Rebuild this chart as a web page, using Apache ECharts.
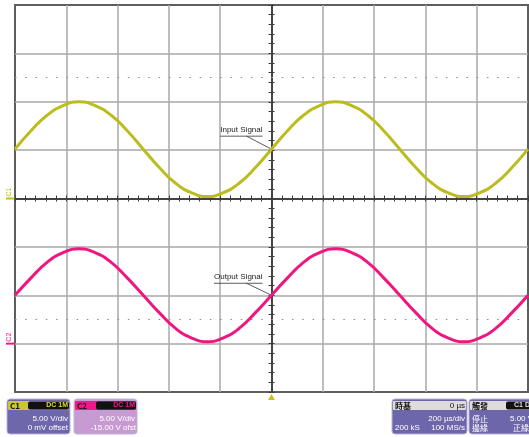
<!DOCTYPE html>
<html>
<head>
<meta charset="utf-8">
<style>
  html, body { margin: 0; padding: 0; background: #fff; }
  #chart { width: 529px; height: 437px; }
</style>
<script src="https://cdn.jsdelivr.net/npm/echarts@6/dist/echarts.min.js"></script>
</head>
<body>
<div id="chart"></div>
<script>
// time base: 200 us/div, trigger at 0 us (screen centre)
const times = [-1000, -937.5, -875, -812.5, -750, -687.5, -625, -562.5,
  -500, -437.5, -375, -312.5, -250, -187.5, -125, -62.5,
  0, 62.5, 125, 187.5, 250, 312.5, 375, 437.5,
  500, 562.5, 625, 687.5, 750, 812.5, 875, 937.5, 1000];

// C1 input, volts (5 V/div, 0 V offset)
const inputVolts = [5.1, 7.0, 8.6, 9.6, 10.0, 9.6, 8.6, 7.0,
  5.1, 3.2, 1.6, 0.6, 0.2, 0.6, 1.6, 3.2,
  5.1, 7.0, 8.6, 9.6, 10.0, 9.6, 8.6, 7.0,
  5.1, 3.2, 1.6, 0.6, 0.2, 0.6, 1.6, 3.2, 5.1];

// C2 output, volts (5 V/div, -15 V offset)
const outputVolts = [5.0, 6.8, 8.4, 9.4, 9.8, 9.4, 8.4, 6.8,
  5.0, 3.2, 1.6, 0.6, 0.2, 0.6, 1.6, 3.2,
  5.0, 6.8, 8.4, 9.4, 9.8, 9.4, 8.4, 6.8,
  5.0, 3.2, 1.6, 0.6, 0.2, 0.6, 1.6, 3.2, 5.0];

// screen ranges of the two channels
const c1Range = [-20, 20];
const c2Range = [-5, 35];
const c1Level = 12.5;   // dotted marker C1
const c2Level = 2.5;    // dotted marker C2

const yellow = "#bcbc1e";
const pink = "#f0167f";
const grey = "#a9a9a9";
const dark = "#3c3c3c";
const small = '"Liberation Sans Narrow", "Liberation Sans", Arial, sans-serif';
const cjk = '"Noto Sans CJK TC", "Liberation Sans", sans-serif';

const chart = echarts.init(document.getElementById("chart"));

function centreX(inside) {
  return {
    type: "value", min: -1000, max: 1000, interval: 200, position: "bottom",
    axisLabel: { show: false },
    splitLine: { show: inside, showMinLine: false, showMaxLine: false, lineStyle: { color: grey, width: 1.5 } },
    axisLine: { show: true, onZero: true, onZeroAxisIndex: 0, lineStyle: { color: dark, width: 1.5 } },
    axisTick: { show: true, inside: inside, length: 3, lineStyle: { color: dark, width: 1 } },
    minorTick: { show: true, splitNumber: 5, length: 3, lineStyle: { color: dark, width: 1 } }
  };
}

function centreY(inside) {
  return {
    type: "value", min: c1Range[0], max: c1Range[1], interval: 5, position: "left",
    axisLabel: { show: false },
    splitLine: { show: inside, showMinLine: false, showMaxLine: false, lineStyle: { color: grey, width: 1.5 } },
    axisLine: { show: true, onZero: true, onZeroAxisIndex: 0, lineStyle: { color: dark, width: 1.5 } },
    axisTick: { show: true, inside: inside, length: 3, lineStyle: { color: dark, width: 1 } },
    minorTick: { show: true, splitNumber: 5, length: 3, lineStyle: { color: dark, width: 1 } }
  };
}

chart.setOption({
  animation: false,
  backgroundColor: "#fff",
  grid: {
    left: 15, top: 5, width: 513, height: 387,
    show: true, borderColor: "#5e5e5e", borderWidth: 2, backgroundColor: "#fff"
  },
  xAxis: [centreX(true), centreX(false)],
  yAxis: [
    centreY(true),
    { type: "value", min: c2Range[0], max: c2Range[1], show: false },
    centreY(false)
  ],
  series: [
    {
      name: "Input Signal",
      type: "line",
      xAxisIndex: 0, yAxisIndex: 0,
      smooth: true, showSymbol: false,
      lineStyle: { color: yellow, width: 3 },
      data: times.map((t, i) => [t, inputVolts[i]]),
      markLine: {
        silent: true, symbol: "none", label: { show: false },
        lineStyle: { color: "#8a8a8a", type: [1.5, 8.76], width: 1.2 },
        data: [{ yAxis: c1Level }]
      }
    },
    {
      name: "Output Signal",
      type: "line",
      xAxisIndex: 0, yAxisIndex: 1,
      smooth: true, showSymbol: false,
      lineStyle: { color: pink, width: 3 },
      data: times.map((t, i) => [t, outputVolts[i]]),
      markLine: {
        silent: true, symbol: "none", label: { show: false },
        lineStyle: { color: "#8a8a8a", type: [1.5, 8.76], width: 1.2 },
        data: [{ yAxis: c2Level }]
      }
    }
  ]
});

// ---- annotations and scope chrome ----
const ctx = document.createElement("canvas").getContext("2d");
function textW(str, font) {
  ctx.font = font;
  return ctx.measureText(str).width;
}

function callout(label, yIdx, v, dy) {
  const p = chart.convertToPixel({ xAxisIndex: 0, yAxisIndex: yIdx }, [0, v]);
  const font = "8px " + small;
  const right = p[0] - 9;
  const w = textW(label, font);
  const uy = p[1] - dy;
  return [
    { type: "text", left: right - w, top: uy - 10,
      style: { text: label, font: font, fill: "#222" } },
    { type: "line", shape: { x1: right - w, y1: uy, x2: right, y2: uy },
      style: { stroke: "#333", lineWidth: 0.8 } },
    { type: "line", shape: { x1: p[0] - 25, y1: uy, x2: p[0], y2: p[1] },
      style: { stroke: "#333", lineWidth: 0.8 } }
  ];
}

function groundMark(name, yIdx, color) {
  const p = chart.convertToPixel({ xAxisIndex: 0, yAxisIndex: yIdx }, [-1000, 0]);
  return [
    { type: "line", shape: { x1: 6, y1: p[1], x2: p[0], y2: p[1] },
      style: { stroke: color, lineWidth: 2 } },
    { type: "text", x: 13, y: p[1] - 2, rotation: Math.PI / 2,
      style: { text: name, font: "7px " + small, fill: color, align: "left", verticalAlign: "bottom" } }
  ];
}

function panel(x, w, head, headText, pill, pillText, body, rows) {
  const els = [
    { type: "rect", shape: { x: x, y: 399, width: w, height: 35, r: 3 },
      style: { fill: body, stroke: "#b9b5d6", lineWidth: 1 } },
    { type: "rect", shape: { x: x + 1, y: 401, width: w - 2, height: 9, r: 1 },
      style: { fill: head } },
    { type: "text", x: x + 3, y: 405.5,
      style: { text: headText, font: "bold 8px " + cjk, fill: "#111", verticalAlign: "middle" } }
  ];
  if (pill) {
    els.push({ type: "rect", shape: { x: pill.x, y: 401.5, width: pill.w, height: 8, r: 2 },
      style: { fill: "#111" } });
    els.push({ type: "text", x: pill.x + pill.w - 1, y: 405.5,
      style: { text: pillText, font: "bold 7px " + small, fill: pill.color, align: "right", verticalAlign: "middle" } });
  }
  rows.forEach(r => {
    els.push({ type: "text", x: r.x, y: r.y,
      style: { text: r.t, font: (r.cjk ? "8px " + cjk : "8px " + small), fill: "#fff",
        align: r.align || "right", verticalAlign: "middle" } });
  });
  return els;
}

function drawChrome() {
  const trig = chart.convertToPixel({ xAxisIndex: 0 }, 0);
  let g = [];
  g = g.concat(callout("Input Signal", 0, inputVolts[16], 13));
  g = g.concat(callout("Output Signal", 1, outputVolts[16], 12));
  g = g.concat(groundMark("C1", 0, yellow));
  g = g.concat(groundMark("C2", 1, pink));
  g.push({ type: "polygon", shape: { points: [[trig, 394], [trig - 3.5, 400], [trig + 3.5, 400]] },
    style: { fill: "#c8c020" } });

  g = g.concat(panel(7, 63, "#c9c92c", "C1", { x: 28, w: 41, color: "#d8d83a" }, "DC 1M",
    "#6e67ab", [
      { t: "5.00 V/div", x: 68, y: 419 },
      { t: "0 mV offset", x: 68, y: 428 }
    ]));
  g = g.concat(panel(74, 63, "#ee1a8a", "C2", { x: 96, w: 40, color: "#ee1a8a" }, "DC 1M",
    "#c89ad2", [
      { t: "5.00 V/div", x: 135, y: 419 },
      { t: "-15.00 V ofst", x: 136, y: 428 }
    ]));
  g = g.concat(panel(392, 75, "#dcdcdc", "時基", null, "",
    "#6d66aa", [
      { t: "0 µs", x: 465, y: 405.5 },
      { t: "200 µs/div", x: 465, y: 419 },
      { t: "200 kS", x: 395, y: 428, align: "left" },
      { t: "100 MS/s", x: 465, y: 428 }
    ]));
  g[g.length - 4].style.fill = "#111";
  g = g.concat(panel(469, 64, "#dcdcdc", "觸發", { x: 506, w: 30, color: "#ddd" }, "C1 DC",
    "#6d66aa", [
      { t: "停止", x: 472, y: 419, align: "left", cjk: true },
      { t: "邊緣", x: 472, y: 428, align: "left", cjk: true },
      { t: "5.00 V", x: 510, y: 419, align: "left" },
      { t: "正緣", x: 513, y: 428, align: "left", cjk: true }
    ]));
  chart.setOption({ graphic: g });
}

drawChrome();
</script>
</body>
</html>
